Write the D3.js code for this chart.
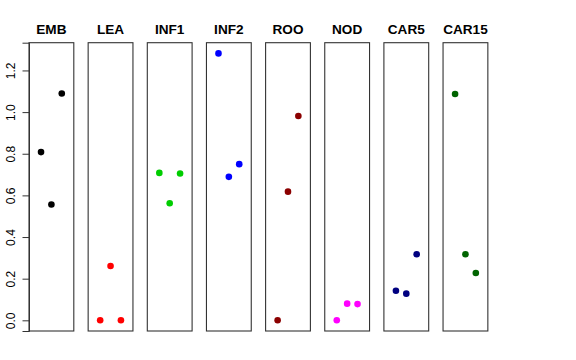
<!DOCTYPE html>
<html>
<head>
<meta charset="utf-8">
<script src="https://cdn.jsdelivr.net/npm/d3@7"></script>
<style>
html,body{margin:0;padding:0;background:#fff;}
svg{display:block;}
</style>
</head>
<body>
<svg id="chart" width="576" height="360"></svg>
<script>
const categories = ["EMB","LEA","INF1","INF2","ROO","NOD","CAR5","CAR15"];
const colors = ["#000000","#FF0000","#00CD00","#0000FF","#8B0000","#FF00FF","#000080","#006400"];
const seriesValues = [
  [0.808, 0.556, 1.089],
  [0.000, 0.261, 0.000],
  [0.708, 0.562, 0.705],
  [1.282, 0.689, 0.750],
  [0.000, 0.618, 0.981],
  [0.000, 0.080, 0.078],
  [0.142, 0.128, 0.317],
  [1.087, 0.317, 0.227]
];
const yTicks = [0, 0.2, 0.4, 0.6, 0.8, 1.0, 1.2];

const svg = d3.select("#chart");
const plotTop = 42.7, plotBottom = 331;
const panelStart = 29, panelStep = 59.15, panelW = 44.8;

const yMax = d3.max(seriesValues.flat());
const pad = 0.04 * yMax;
const y = d3.scaleLinear().domain([0 - pad, yMax + pad]).range([plotBottom, plotTop]);

const xPanel = d3.scaleLinear().domain([0, categories.length]).range([panelStart, panelStart + panelStep * categories.length]);

categories.forEach((cat, i) => {
  const x0 = xPanel(i);
  const x = d3.scaleLinear().domain([-0.16, 4.16]).range([x0, x0 + panelW]);
  const g = svg.append("g");
  g.append("rect")
    .attr("x", x0).attr("y", plotTop)
    .attr("width", panelW).attr("height", plotBottom - plotTop)
    .attr("fill", "none").attr("stroke", "#333").attr("stroke-width", 1.1);
  g.append("text")
    .attr("x", x0 + panelW / 2).attr("y", 34.3)
    .attr("text-anchor", "middle")
    .attr("font-family", "Liberation Sans, Arial, sans-serif")
    .attr("font-weight", "bold")
    .attr("font-size", 13.6)
    .text(cat);
  g.selectAll("circle").data(seriesValues[i]).join("circle")
    .attr("cx", (d, j) => x(j + 1))
    .attr("cy", d => y(d))
    .attr("r", 3.3)
    .attr("fill", colors[i]);
});

// y axis
const axis = svg.append("g").attr("transform", `translate(${panelStart},0)`)
  .call(d3.axisLeft(y).tickValues(yTicks).tickFormat(d3.format(".1f")).tickSizeOuter(0).tickSize(6.5).tickPadding(3));
axis.select(".domain").attr("stroke", "#333");
axis.selectAll(".tick line").attr("stroke", "#333");
axis.selectAll(".tick text")
  .attr("font-family", "Liberation Sans, Arial, sans-serif")
  .attr("font-size", 12)
  .attr("fill", "#000")
  .attr("text-anchor", "middle")
  .attr("dy", null)
  .attr("x", null)
  .attr("transform", "translate(-14,0) rotate(-90)");
</script>
</body>
</html>
